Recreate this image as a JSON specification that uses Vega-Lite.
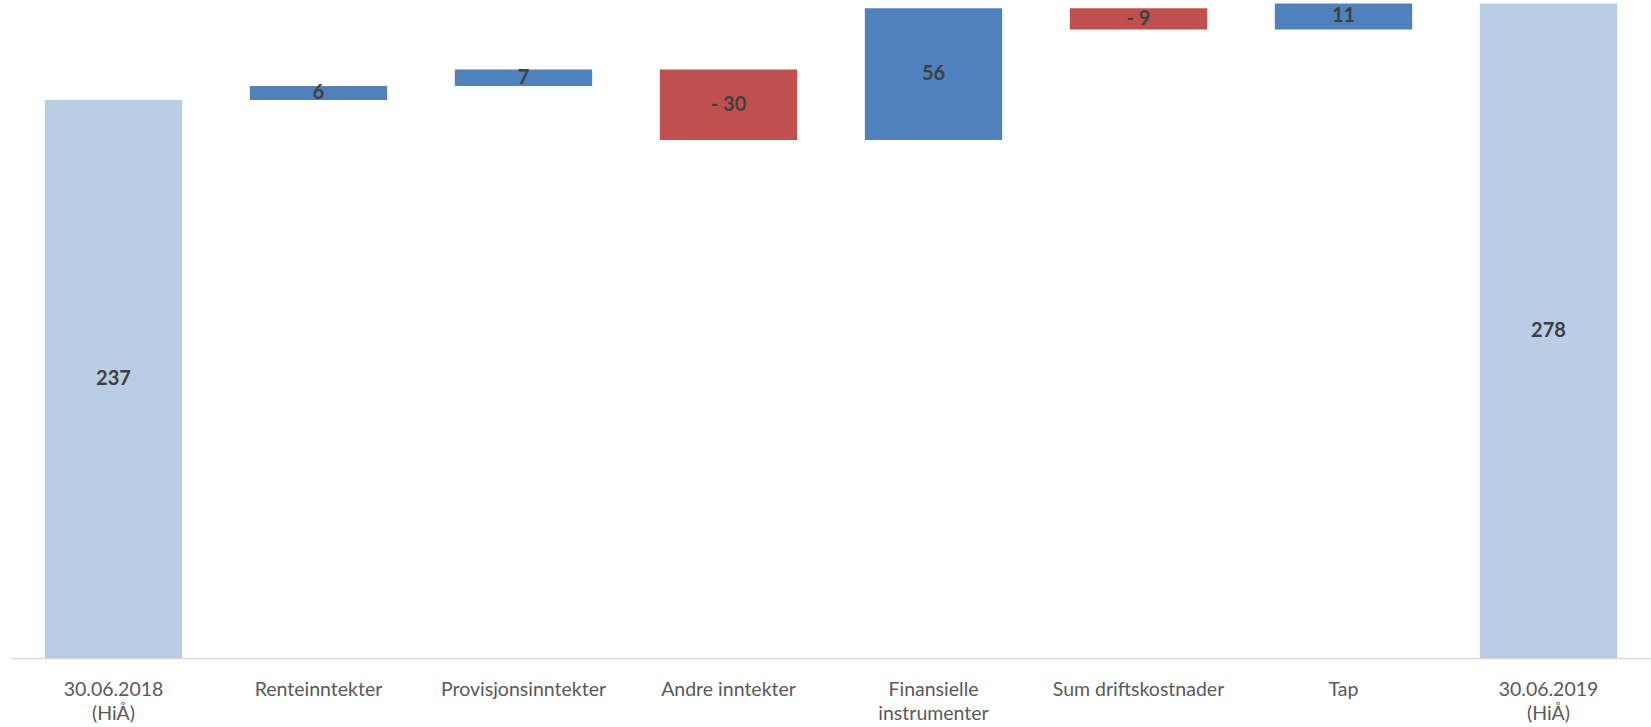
{
  "$schema": "https://vega.github.io/schema/vega-lite/v6.json",
  "width": 1640,
  "height": 658,
  "autosize": {"type": "none"},
  "padding": {"left": 11, "top": 0, "right": 0, "bottom": 69},
  "background": "white",
  "config": {"view": {"stroke": null}},
  "data": {
    "values": [
      {"cat": "30.06.2018|(HiÅ)", "start": 0, "end": 237, "label": "237", "type": "total"},
      {"cat": "Renteinntekter", "start": 237, "end": 243, "label": "6", "type": "up"},
      {"cat": "Provisjonsinntekter", "start": 243, "end": 250, "label": "7", "type": "up"},
      {"cat": "Andre inntekter", "start": 250, "end": 220, "label": "- 30", "type": "down"},
      {"cat": "Finansielle|instrumenter", "start": 220, "end": 276, "label": "56", "type": "up"},
      {"cat": "Sum driftskostnader", "start": 276, "end": 267, "label": "- 9", "type": "down"},
      {"cat": "Tap", "start": 267, "end": 278, "label": "11", "type": "up"},
      {"cat": "30.06.2019|(HiÅ)", "start": 0, "end": 278, "label": "278", "type": "total"}
    ]
  },
  "encoding": {
    "x": {
      "field": "cat",
      "type": "nominal",
      "sort": null,
      "scale": {"paddingInner": 0.33, "paddingOuter": 0.165},
      "axis": {
        "title": null,
        "labelAngle": 0,
        "ticks": false,
        "domainColor": "#d9d9d9",
        "domainWidth": 1.5,
        "labelFont": "Lato",
        "labelFontSize": 19.5,
        "labelColor": "#595959",
        "labelPadding": 22,
        "labelLineHeight": 24,
        "labelLimit": 300,
        "labelExpr": "split(datum.label, '|')"
      }
    }
  },
  "layer": [
    {
      "mark": {"type": "bar"},
      "encoding": {
        "y": {"field": "start", "type": "quantitative", "scale": {"domain": [0, 279.5], "nice": false, "zero": true}, "axis": null},
        "y2": {"field": "end"},
        "color": {
          "field": "type",
          "type": "nominal",
          "scale": {"domain": ["total", "up", "down"], "range": ["#B9CDE5", "#4F81BD", "#C0504D"]},
          "legend": null
        }
      }
    },
    {
      "mark": {"type": "text", "font": "Lato", "fontWeight": "bold", "fontSize": 20, "color": "#404040", "baseline": "middle"},
      "transform": [{"calculate": "(datum.start + datum.end) / 2", "as": "mid"}],
      "encoding": {
        "y": {"field": "mid", "type": "quantitative", "scale": {"domain": [0, 279.5], "nice": false}},
        "text": {"field": "label"}
      }
    }
  ]
}
